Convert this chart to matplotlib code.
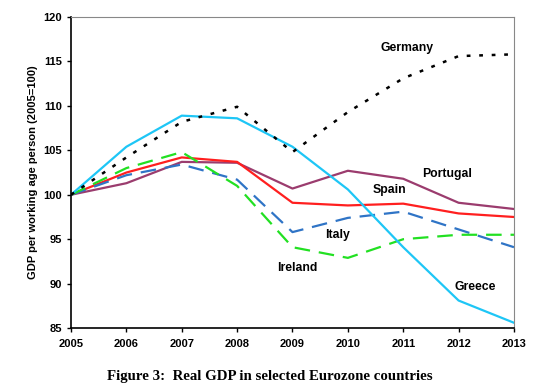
import numpy as np
import matplotlib
matplotlib.use("Agg")
import matplotlib.pyplot as plt

years = [2005, 2006, 2007, 2008, 2009, 2010, 2011, 2012, 2013]
germany = [100, 104.2, 108.2, 109.9, 104.8, 109.3, 113.1, 115.6, 115.8]
greece = [100, 105.4, 108.9, 108.6, 105.4, 100.6, 94.1, 88.1, 85.6]
italy = [100, 102.2, 103.4, 101.7, 95.8, 97.4, 98.1, 96.1, 94.1]
ireland = [100, 103.0, 104.8, 101.0, 94.1, 92.9, 95.0, 95.5, 95.5]
spain = [100, 102.5, 104.2, 103.7, 99.1, 98.8, 99.0, 97.9, 97.5]
portugal = [100, 101.3, 103.7, 103.6, 100.7, 102.7, 101.8, 99.1, 98.4]

plt.rcParams['font.family'] = ['Liberation Sans', 'DejaVu Sans']

fig = plt.figure(figsize=(5.35, 3.86), dpi=100)
ax = fig.add_axes([0.1327, 0.150, 0.828, 0.806])

ax.plot(years, portugal, color='#9b3c6e', lw=1.6)
ax.plot(years, spain, color='#ff1f1f', lw=1.6)
ax.plot(years, italy, color='#2f74c6', lw=1.6, dashes=(7, 4))
ax.plot(years, ireland, color='#22e022', lw=1.6, dashes=(7, 4))
ax.plot(years, greece, color='#1ec6f6', lw=1.6)
ax.plot(years, germany, color='black', lw=1.8, dashes=(1.5, 3.5))

lab = dict(fontsize=8.8, fontweight='bold', ha='center', va='center')
ax.text(2011.07, 116.5, 'Germany', **lab)
ax.text(2011.8, 102.3, 'Portugal', **lab)
ax.text(2010.76, 100.5, 'Spain', **lab)
ax.text(2009.82, 95.5, 'Italy', **lab)
ax.text(2009.08, 91.75, 'Ireland', **lab)
ax.text(2012.3, 89.6, 'Greece', **lab)

ax.set_xlim(2005, 2013)
ax.set_ylim(85, 120)
ax.set_xticks(years)
ax.set_yticks(np.arange(85, 121, 5))
ax.tick_params(labelsize=8, direction='out', length=3, width=1)
ax.tick_params(axis='x', pad=5)
for t in ax.get_xticklabels() + ax.get_yticklabels():
    t.set_fontweight('bold')
ax.set_ylabel('GDP per working age person (2005=100)', fontsize=8, fontweight='bold')
ax.spines['left'].set_linewidth(1.2)
ax.spines['bottom'].set_linewidth(1.2)
ax.spines['top'].set_color('#888888')
ax.spines['right'].set_color('#888888')

fig.text(0.505, 0.024, 'Figure 3:  Real GDP in selected Eurozone countries',
         family=['Liberation Serif', 'DejaVu Serif'], fontweight='bold', fontsize=10.7,
         ha='center', va='center')

fig.savefig('out.png', dpi=100)
